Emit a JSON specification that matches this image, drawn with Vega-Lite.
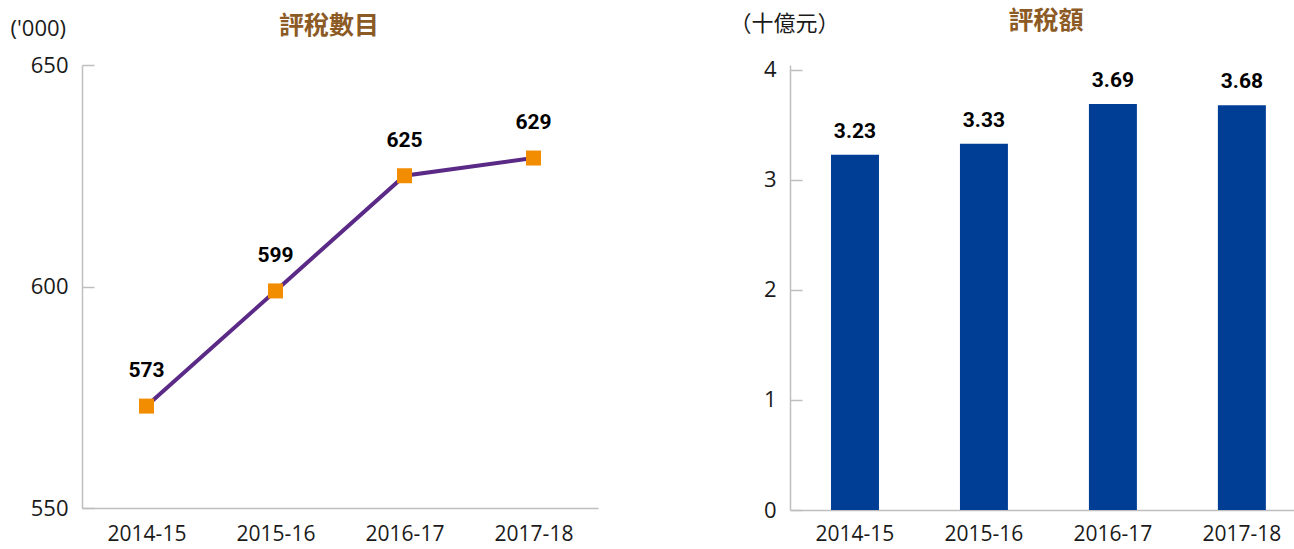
{
  "$schema": "https://vega.github.io/schema/vega-lite/v6.json",
  "padding": {"left": 10, "top": 9, "right": 0, "bottom": 4},
  "background": "white",
  "bounds": "flush",
  "spacing": 192,
  "config": {
    "view": {"stroke": null},
    "font": "Open Sans",
    "axis": {
      "domainColor": "#BFBFBF",
      "domainWidth": 1.5,
      "tickColor": "#BFBFBF",
      "tickWidth": 1.5,
      "labelColor": "#1a1a1a",
      "labelFont": "Open Sans",
      "labelFontSize": 22,
      "titleFont": "Noto Sans CJK TC",
      "titleFontSize": 22,
      "titleFontWeight": "normal",
      "titleColor": "#1a1a1a",
      "grid": false
    },
    "title": {
      "font": "Noto Sans CJK TC",
      "fontSize": 25,
      "fontWeight": "bold",
      "color": "#8C5A24",
      "anchor": "middle"
    }
  },
  "hconcat": [
    {
      "width": 516,
      "height": 443,
      "title": {"text": "評稅數目", "offset": -22, "dx": -11},
      "data": {"values": [
        {"year": "2014-15", "count": 573},
        {"year": "2015-16", "count": 599},
        {"year": "2016-17", "count": 625},
        {"year": "2017-18", "count": 629}
      ]},
      "encoding": {
        "x": {"field": "year", "type": "ordinal", "sort": null,
          "scale": {"type": "point", "padding": 0.5},
          "axis": {"title": null, "ticks": false, "labelAngle": 0, "labelPadding": 15, "labelFontSize": 21}},
        "y": {"field": "count", "type": "quantitative",
          "scale": {"domain": [550, 650], "nice": false, "zero": false},
          "axis": {"values": [550, 600, 650], "title": "('000)", "titleAngle": 0,
            "titleX": -72, "titleY": -37, "titleAlign": "left", "titleBaseline": "middle",
            "titleFont": "Open Sans", "tickSize": -12, "labelPadding": 26}}
      },
      "layer": [
        {"mark": {"type": "line", "color": "#5B2A86", "strokeWidth": 4}},
        {"mark": {"type": "square", "color": "#F28C00", "size": 225, "opacity": 1, "filled": true}},
        {"mark": {"type": "text", "dy": -35, "fontWeight": "bold", "fontSize": 21,
          "font": "Roboto", "color": "#000000"},
          "encoding": {"text": {"field": "count", "type": "quantitative"}}}
      ]
    },
    {
      "width": 504,
      "height": 445,
      "title": {"text": "評稅額", "offset": -22, "dx": 4},
      "data": {"values": [
        {"year": "2014-15", "amount": 3.23},
        {"year": "2015-16", "amount": 3.33},
        {"year": "2016-17", "amount": 3.69},
        {"year": "2017-18", "amount": 3.68}
      ]},
      "encoding": {
        "x": {"field": "year", "type": "ordinal", "sort": null,
          "scale": {"type": "band", "paddingInner": 0.628, "paddingOuter": 0.268, "align": 0.593},
          "axis": {"title": null, "ticks": false, "labelAngle": 0, "labelPadding": 13, "labelFontSize": 21}},
        "y": {"field": "amount", "type": "quantitative",
          "scale": {"domain": [0, 4.045], "nice": false},
          "axis": {"values": [0, 1, 2, 3, 4], "title": "（十億元）", "titleAngle": 0,
            "titleX": -61, "titleY": -42, "titleAlign": "left", "titleBaseline": "middle",
            "tickSize": -12, "labelPadding": 26}}
      },
      "layer": [
        {"mark": {"type": "bar", "color": "#003E96"}},
        {"mark": {"type": "text", "baseline": "bottom", "dy": -13, "fontWeight": "bold", "fontSize": 21,
          "font": "Roboto", "color": "#000000"},
          "encoding": {"text": {"field": "amount", "type": "quantitative", "format": ".2f"}}}
      ]
    }
  ]
}
